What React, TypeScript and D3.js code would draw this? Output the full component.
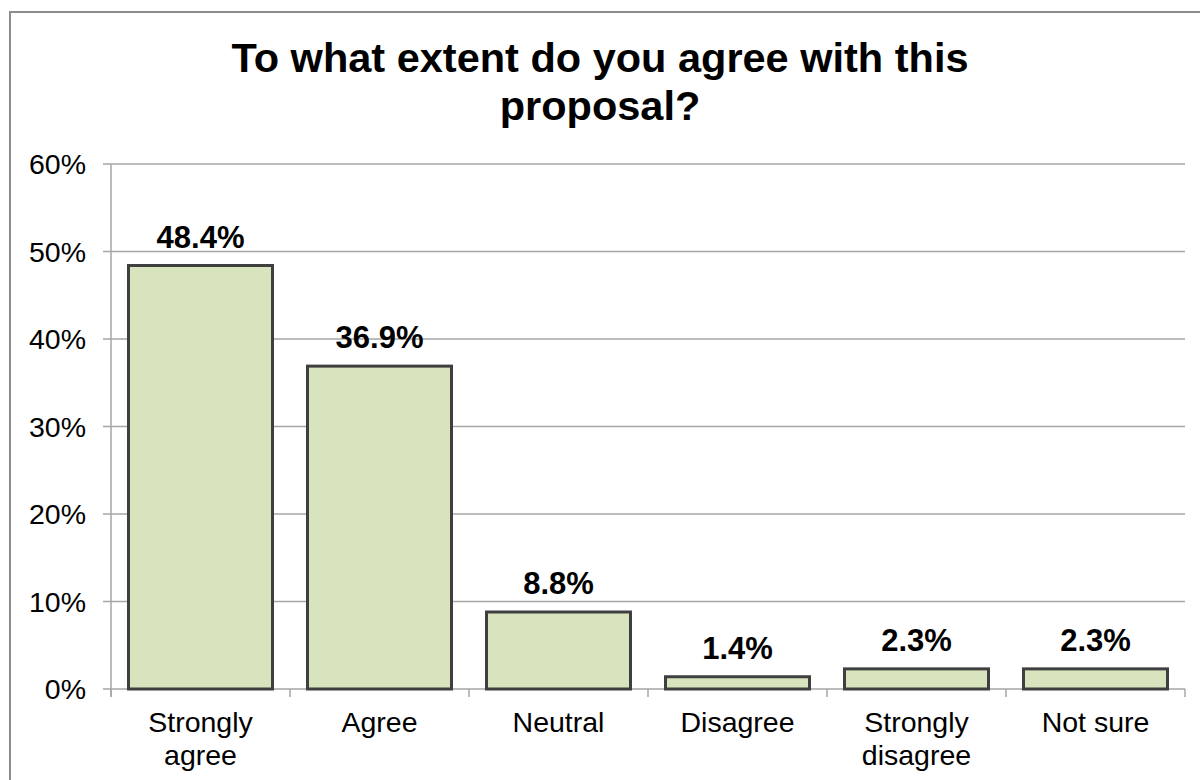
import React from "react";
import * as d3 from "d3";

const categories: string[][] = [
  ["Strongly", "agree"],
  ["Agree"],
  ["Neutral"],
  ["Disagree"],
  ["Strongly", "disagree"],
  ["Not sure"],
];
const values: number[] = [48.4, 36.9, 8.8, 1.4, 2.3, 2.3];
const yTicks: number[] = [0, 10, 20, 30, 40, 50, 60];
const titleLines: string[] = ["To what extent do you agree with this", "proposal?"];

const W = 1200;
const H = 780;
const left = 111;
const right = 1185;
const top = 164;
const bottom = 689;
const font = "'Liberation Sans', Arial, sans-serif";

export default function App() {
  const keys = categories.map((_, i) => String(i));
  const x = d3.scaleBand<string>().domain(keys).range([left, right]).paddingInner(0.1955).paddingOuter(0.1955 / 2);
  const y = d3.scaleLinear().domain([0, 60]).range([bottom, top]);
  const step = x.step();
  const grid = "#a6a6a6";

  return (
    <svg width={W} height={H} style={{ position: "absolute", left: 0, top: 0, background: "#fff" }}>
      <rect x={10} y={12} width={1200} height={800} fill="#fff" stroke="#8c8c8c" strokeWidth={2} />
      {titleLines.map((t, i) => (
        <text key={i} x={600} y={72 + i * 48} textAnchor="middle" fontFamily={font} fontWeight="bold" fontSize={41.5} fill="#000">
          {t}
        </text>
      ))}
      {yTicks.map((t) => (
        <g key={t}>
          <line x1={103} x2={right} y1={y(t)} y2={y(t)} stroke={grid} strokeWidth={1.5} />
          <text x={86} y={y(t) + 10} textAnchor="end" fontFamily={font} fontSize={28.5} fill="#000">
            {t}%
          </text>
        </g>
      ))}
      <line x1={left} x2={left} y1={top} y2={bottom + 8} stroke={grid} strokeWidth={1.5} />
      {d3.range(categories.length + 1).map((i) => (
        <line key={i} x1={left + i * step} x2={left + i * step} y1={bottom} y2={bottom + 8} stroke={grid} strokeWidth={1.5} />
      ))}
      {values.map((v, i) => {
        const bx = x(String(i))!;
        const bw = x.bandwidth();
        return (
          <g key={i}>
            <rect x={bx} y={y(v)} width={bw} height={bottom - y(v)} fill="#d7e4bd" stroke="#3f3f3f" strokeWidth={3} />
            <text x={bx + bw / 2} y={y(v) - 18} textAnchor="middle" fontFamily={font} fontWeight="bold" fontSize={31} fill="#000">
              {v.toFixed(1)}%
            </text>
          </g>
        );
      })}
      {categories.map((lines, i) => (
        <text key={i} x={x(String(i))! + x.bandwidth() / 2} textAnchor="middle" fontFamily={font} fontSize={28.5} fill="#000">
          {lines.map((l, j) => (
            <tspan key={j} x={x(String(i))! + x.bandwidth() / 2} y={732 + j * 33}>
              {l}
            </tspan>
          ))}
        </text>
      ))}
    </svg>
  );
}
